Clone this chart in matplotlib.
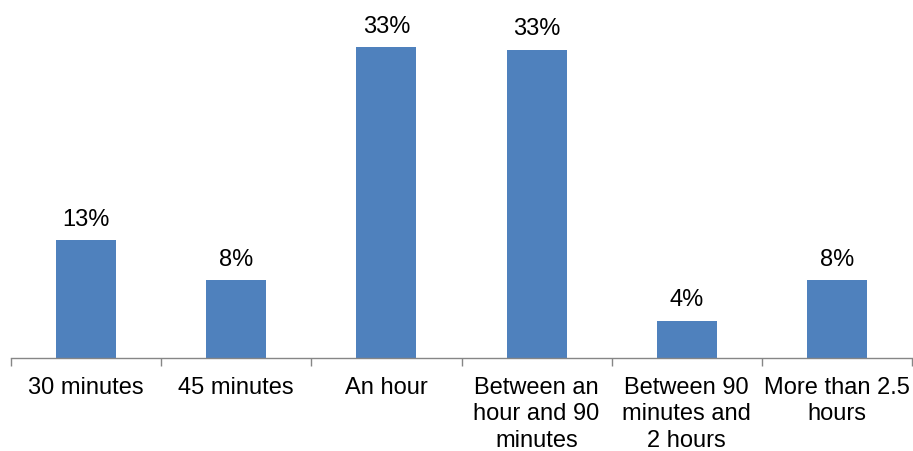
import matplotlib.pyplot as plt
import numpy as np

plt.rcParams['font.family'] = ['Liberation Sans', 'DejaVu Sans']

categories = ['30 minutes', '45 minutes', 'An hour', 'Between an\nhour and 90\nminutes',
              'Between 90\nminutes and\n2 hours', 'More than 2.5\nhours']
shares = [12.6, 8.3, 33.3, 33.0, 4.0, 8.3]

fig = plt.figure(figsize=(9.13, 4.52), dpi=100)
ax = fig.add_axes([11 / 913, 93 / 452, 901 / 913, 359 / 452])

x = np.arange(len(categories))
ax.bar(x, shares, width=0.4, color='#4F81BD')

for xi, v in zip(x, shares):
    ax.annotate(f'{int(v + 0.5)}%', (xi, v), xytext=(0, 7.5), textcoords='offset points',
                ha='center', va='bottom', fontsize=17, color='black')

ax.set_xlim(-0.5, len(categories) - 0.5)
ax.set_ylim(0, 359 / 9.34)

ax.set_xticks(x)
ax.set_xticklabels(categories, fontsize=17, linespacing=1.26)
ax.set_xticks(np.arange(len(categories) + 1) - 0.5, minor=True)
ax.tick_params(axis='x', which='major', length=0, pad=13)
ax.tick_params(axis='x', which='minor', length=5.5, width=1, color='#868686')
ax.set_yticks([])

for side in ['top', 'right', 'left']:
    ax.spines[side].set_visible(False)
ax.spines['bottom'].set_color('#868686')
ax.spines['bottom'].set_linewidth(1)

fig.savefig('out.png', dpi=100)
